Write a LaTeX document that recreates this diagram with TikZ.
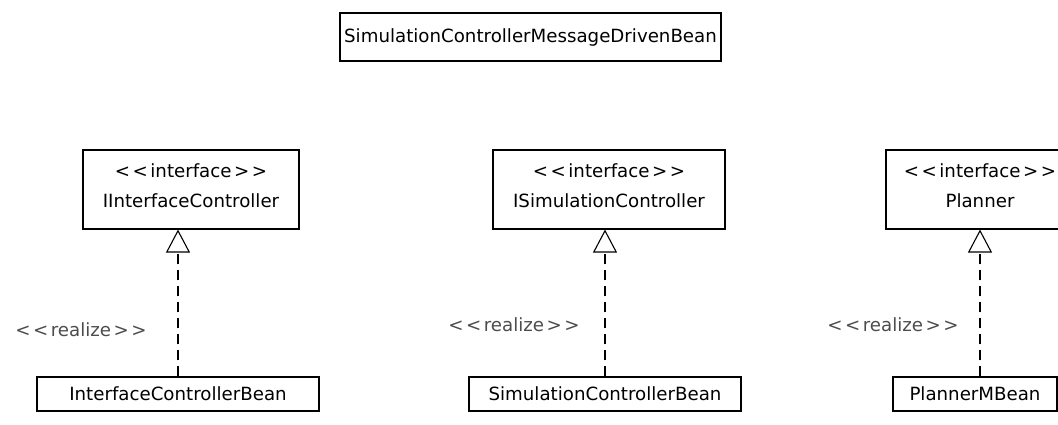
\documentclass[tikz,border=0pt]{standalone}
\usepackage{fontspec}
\setmainfont{DejaVu Sans}
\usetikzlibrary{arrows.meta}
\newcommand{\lt}{<\hspace{2.5pt}}
\newcommand{\gt}{\hspace{2.5pt}>}
\newcommand{\dstrut}{\rule[-8pt]{0pt}{8pt}}
\begin{document}
\begin{tikzpicture}[x=1pt,y=-1pt,
  umlbox/.style={draw=black,line width=1.1pt,inner sep=0pt,align=center,
    font=\fontsize{18.2}{30}\selectfont},
  lbl/.style={inner sep=0pt,font=\fontsize{18.2}{20}\selectfont,text=black!70},
  realize/.style={line width=1.1pt,dash pattern=on 10pt off 6pt,
    -{Triangle[open,width=24pt,length=23pt,line width=1.1pt]}}]
\useasboundingbox (0,0) rectangle (1058,425);
\begin{scope}
\clip (0,0) rectangle (1058,425);
\node[umlbox,minimum width=381pt,minimum height=48pt] (top) at (530.5,37) {SimulationControllerMessageDrivenBean};
\node[umlbox,minimum width=216pt,minimum height=79pt] (i1) at (191,189.5) {\lt\lt interface\gt\gt\\IInterfaceController\dstrut};
\node[umlbox,minimum width=232pt,minimum height=79pt] (i2) at (609,189.5) {\lt\lt interface\gt\gt\\ISimulationController\dstrut};
\node[umlbox,minimum width=188pt,minimum height=79pt] (i3) at (980,189.5) {\lt\lt interface\gt\gt\\Planner\dstrut};
\node[umlbox,minimum width=282pt,minimum height=34pt] (b1) at (178,394) {InterfaceControllerBean};
\node[umlbox,minimum width=272pt,minimum height=34pt] (b2) at (605,394) {SimulationControllerBean};
\node[umlbox,minimum width=164pt,minimum height=34pt] (b3) at (975,394) {PlannerMBean};
\node[lbl] (r1) at (81,330) {\lt\lt realize\gt\gt};
\node[lbl] (r2) at (514,325) {\lt\lt realize\gt\gt};
\node[lbl] (r3) at (893,325) {\lt\lt realize\gt\gt};
\draw[realize] (b1.north) -- (b1.north |- i1.south);
\draw[realize] (b2.north) -- (b2.north |- i2.south);
\draw[realize] ([xshift=5pt]b3.north) -- ([xshift=5pt]b3.north |- i3.south);
\end{scope}
\end{tikzpicture}
\end{document}
